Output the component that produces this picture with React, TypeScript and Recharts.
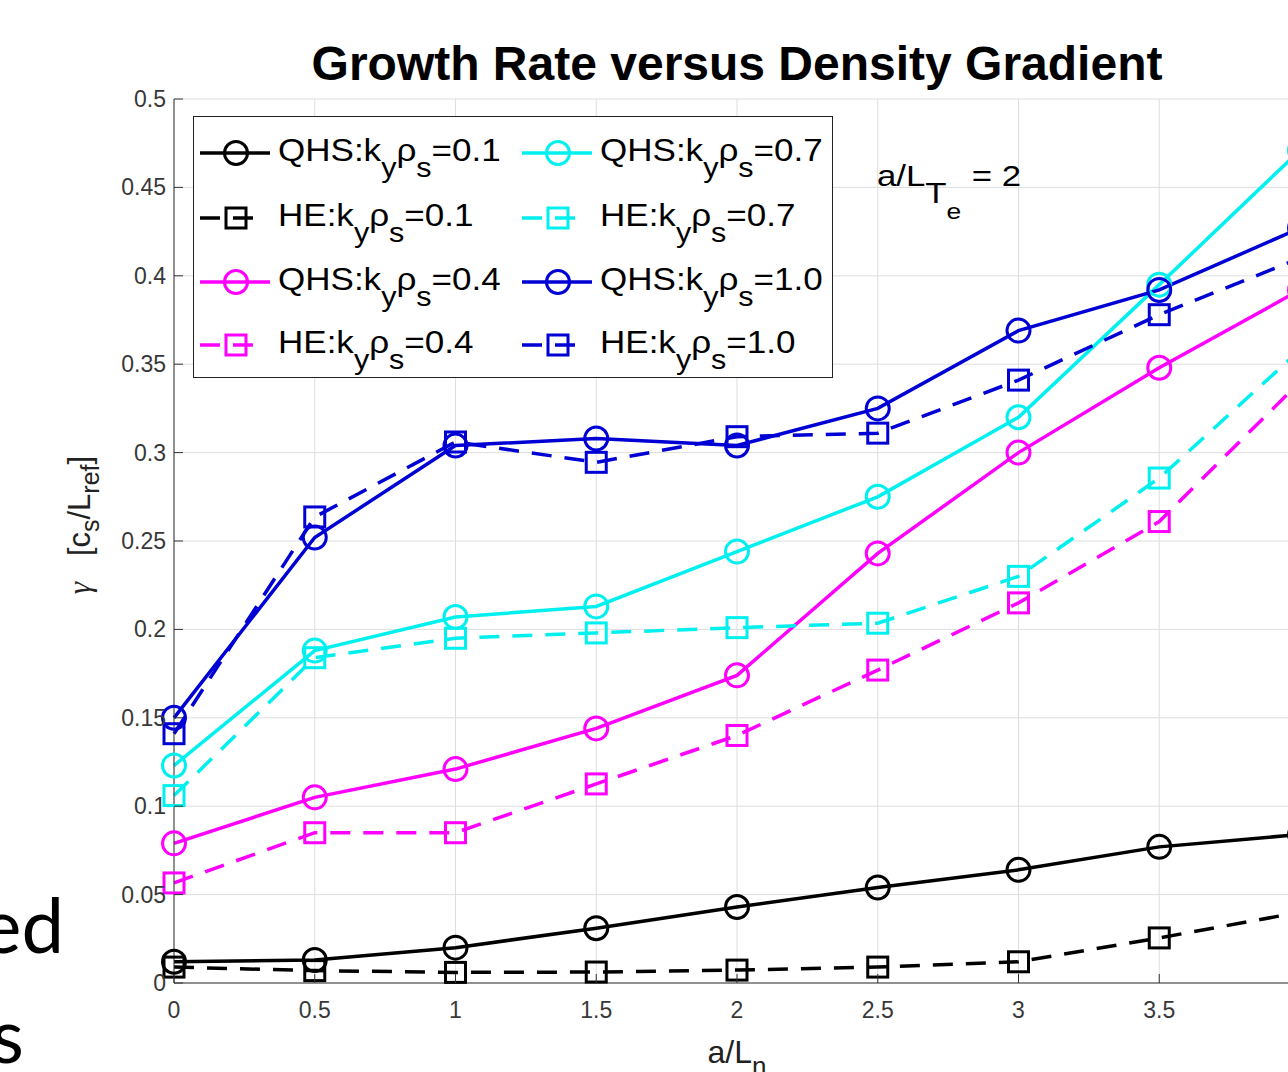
import React from 'react'
import {
  LineChart,
  Line,
  XAxis,
  YAxis,
  CartesianGrid,
  Legend,
} from 'recharts'

// a/L_n values along the x axis
const xValues = [0, 0.5, 1, 1.5, 2, 2.5, 3, 3.5, 4]

// growth rate gamma [c_s/L_ref]
const qhs01 = [0.012, 0.013, 0.020, 0.031, 0.043, 0.054, 0.064, 0.077, 0.084]
const he01 = [0.009, 0.007, 0.006, 0.0062, 0.0073, 0.009, 0.012, 0.0255, 0.040]
const qhs04 = [0.079, 0.105, 0.121, 0.144, 0.174, 0.243, 0.300, 0.348, 0.392]
const he04 = [0.0566, 0.085, 0.085, 0.1126, 0.140, 0.177, 0.215, 0.261, 0.340]
const qhs07 = [0.123, 0.188, 0.207, 0.213, 0.244, 0.275, 0.320, 0.395, 0.471]
const he07 = [0.106, 0.184, 0.195, 0.198, 0.201, 0.2035, 0.230, 0.2856, 0.358]
const qhs10 = [0.150, 0.252, 0.304, 0.308, 0.304, 0.325, 0.369, 0.392, 0.427]
const he10 = [0.141, 0.2636, 0.306, 0.2945, 0.309, 0.311, 0.341, 0.378, 0.410]

const xTicks = [0, 0.5, 1, 1.5, 2, 2.5, 3, 3.5, 4]
const yTicks = [0, 0.05, 0.1, 0.15, 0.2, 0.25, 0.3, 0.35, 0.4, 0.45, 0.5]

// series setup, in legend order (column-major: left column then right column)
const SERIES = [
  { key: 'qhs01', label: 'QHS:k', value: '=0.1', values: qhs01, color: '#000000', dashed: false },
  { key: 'he01', label: 'HE:k', value: '=0.1', values: he01, color: '#000000', dashed: true },
  { key: 'qhs04', label: 'QHS:k', value: '=0.4', values: qhs04, color: '#ff00ff', dashed: false },
  { key: 'he04', label: 'HE:k', value: '=0.4', values: he04, color: '#ff00ff', dashed: true },
  { key: 'qhs07', label: 'QHS:k', value: '=0.7', values: qhs07, color: '#00f0f0', dashed: false },
  { key: 'he07', label: 'HE:k', value: '=0.7', values: he07, color: '#00f0f0', dashed: true },
  { key: 'qhs10', label: 'QHS:k', value: '=1.0', values: qhs10, color: '#0000d4', dashed: false },
  { key: 'he10', label: 'HE:k', value: '=1.0', values: he10, color: '#0000d4', dashed: true },
]

const data = xValues.map((x, i) => {
  const row: { [k: string]: number } = { x }
  SERIES.forEach((s) => {
    row[s.key] = s.values[i]
  })
  return row
})

const FONT = '"Liberation Sans", Arial, Helvetica, sans-serif'
const TICK_COLOR = '#383838'
const DASH = '20 13'

const circleDot = (color: string) => (props: any) => (
  <circle
    key={`c-${props.index}`}
    cx={props.cx}
    cy={props.cy}
    r={11.5}
    fill="none"
    stroke={color}
    strokeWidth={3}
  />
)

const squareDot = (color: string) => (props: any) => (
  <rect
    key={`s-${props.index}`}
    x={props.cx - 10}
    y={props.cy - 10}
    width={20}
    height={20}
    fill="none"
    stroke={color}
    strokeWidth={3}
  />
)

// ticks point inward, like matlab
const XTick = (props: any) => {
  const { x, y, payload } = props
  return (
    <g>
      <line x1={x} y1={y} x2={x} y2={y - 9} stroke="#333" strokeWidth={1} />
      <text x={x} y={y + 35} textAnchor="middle" fontSize={23} fontFamily={FONT} fill={TICK_COLOR}>
        {String(payload.value)}
      </text>
    </g>
  )
}

const YTick = (props: any) => {
  const { x, y, payload } = props
  return (
    <g>
      <line x1={x} y1={y} x2={x + 9} y2={y} stroke="#333" strokeWidth={1} />
      <text x={x - 8} y={y + 8} textAnchor="end" fontSize={23} fontFamily={FONT} fill={TICK_COLOR}>
        {String(payload.value)}
      </text>
    </g>
  )
}

const XLabel = (props: any) => {
  const vb = props.viewBox
  return (
    <text
      x={vb.x + vb.width / 2}
      y={vb.y + 80}
      textAnchor="middle"
      fontSize={32}
      fontFamily={FONT}
      fill="#222"
    >
      a/L
      <tspan dy={12} fontSize={26}>n</tspan>
    </text>
  )
}

const YLabel = (props: any) => {
  const vb = props.viewBox
  const cx = vb.x - 24
  const cy = vb.y + vb.height / 2 - 16
  return (
    <text
      transform={`translate(${cx},${cy}) rotate(-90)`}
      textAnchor="middle"
      fontSize={31}
      fontFamily={FONT}
      fill="#222"
    >
      <tspan fontFamily='"Liberation Serif", serif' fontStyle="italic">γ</tspan>
      <tspan>{'\u00a0\u00a0\u00a0[c'}</tspan>
      <tspan dy={9} fontSize={25}>s</tspan>
      <tspan dy={-9}>/L</tspan>
      <tspan dy={9} fontSize={25}>ref</tspan>
      <tspan dy={-9}>]</tspan>
    </text>
  )
}

// legend box, 2 columns x 4 rows
const LegendBox = () => {
  const rowY = [37, 102, 166, 229]
  const colX = [7, 329]
  return (
    <svg width={640} height={262} style={{ display: 'block' }}>
      <rect x={0.5} y={0.5} width={639} height={261} fill="#fff" stroke="#222" strokeWidth={1} />
      {SERIES.map((s, i) => {
        const col = Math.floor(i / 4)
        const row = i % 4
        const lx = colX[col]
        const ly = rowY[row]
        return (
          <g key={s.key}>
            <line
              x1={lx}
              y1={ly}
              x2={s.dashed ? lx + 55 : lx + 70}
              y2={ly}
              stroke={s.color}
              strokeWidth={3.5}
              strokeDasharray={s.dashed ? DASH : undefined}
            />
            {s.dashed ? (
              <rect x={lx + 26} y={ly - 10} width={20} height={20} fill="none" stroke={s.color} strokeWidth={3} />
            ) : (
              <circle cx={lx + 36} cy={ly} r={11.5} fill="none" stroke={s.color} strokeWidth={3} />
            )}
            <text
              transform={`translate(${lx + 78},${ly + 8}) scale(1.13,1)`}
              fontSize={31}
              fontFamily={FONT}
              fill="#000"
            >
              {s.label}
              <tspan dy={16} fontSize={27}>y</tspan>
              <tspan dy={-16}>ρ</tspan>
              <tspan dy={16} fontSize={27}>s</tspan>
              <tspan dy={-16}>{s.value}</tspan>
            </text>
          </g>
        )
      })}
    </svg>
  )
}

export default function App() {
  return (
    <div
      style={{
        position: 'absolute',
        left: 0,
        top: 0,
        width: 1288,
        height: 1072,
        overflow: 'hidden',
        background: '#fff',
        fontFamily: FONT,
      }}
    >
      <LineChart
        width={1330}
        height={1072}
        data={data}
        margin={{ top: 99, right: 30, bottom: 0, left: 114 }}
      >
        <CartesianGrid stroke="#dedede" strokeWidth={1} />
        <XAxis
          dataKey="x"
          type="number"
          domain={[0, 4]}
          ticks={xTicks}
          interval={0}
          height={89}
          tickSize={0}
          tickMargin={0}
          tickLine={false}
          tick={(p: any) => <XTick {...p} />}
          axisLine={{ stroke: '#333', strokeWidth: 1 }}
          label={{ content: (p: any) => <XLabel {...p} /> }}
        />
        <YAxis
          type="number"
          domain={[0, 0.5]}
          ticks={yTicks}
          interval={0}
          width={60}
          tickSize={0}
          tickMargin={0}
          tickLine={false}
          tick={(p: any) => <YTick {...p} />}
          axisLine={{ stroke: '#333', strokeWidth: 1 }}
          label={{ content: (p: any) => <YLabel {...p} /> }}
        />
        <Legend
          layout="horizontal"
          verticalAlign="middle"
          align="center"
          wrapperStyle={{ left: 193, top: 116, width: 640, height: 262 }}
          content={() => <LegendBox />}
        />
        {SERIES.map((s) => (
          <Line
            key={s.key}
            type="linear"
            dataKey={s.key}
            stroke={s.color}
            strokeWidth={3.5}
            strokeDasharray={s.dashed ? DASH : undefined}
            dot={s.dashed ? squareDot(s.color) : circleDot(s.color)}
            activeDot={false}
            isAnimationActive={false}
          />
        ))}
      </LineChart>

      {/* title, annotation and the slide text that is cut off on the left */}
      <svg
        width={1288}
        height={1072}
        style={{ position: 'absolute', left: 0, top: 0, pointerEvents: 'none' }}
      >
        <text x={737} y={80} textAnchor="middle" fontSize={48} fontWeight="bold" fontFamily={FONT} fill="#000">
          Growth Rate versus Density Gradient
        </text>
        <g transform="translate(877,186) scale(1.2,1)">
          <text x={0} y={0} fontSize={29} fontFamily={FONT} fill="#000">
            a/L
            <tspan dy={17}>T</tspan>
            <tspan dy={16} fontSize={22}>e</tspan>
          </text>
          <text x={79} y={0} fontSize={29} fontFamily={FONT} fill="#000">= 2</text>
        </g>
        <text x={64} y={953} textAnchor="end" fontSize={76} fontFamily='Lato, "Noto Sans", sans-serif' fill="#000">
          ed
        </text>
        <text x={24} y={1063} textAnchor="end" fontSize={76} fontFamily='Lato, "Noto Sans", sans-serif' fill="#000">
          s
        </text>
      </svg>
    </div>
  )
}
